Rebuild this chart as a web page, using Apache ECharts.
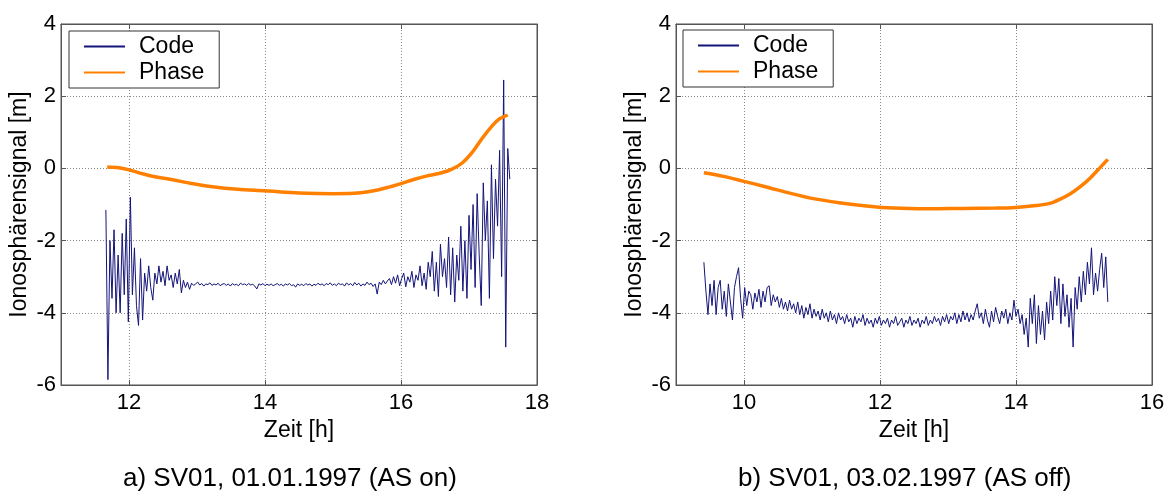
<!DOCTYPE html>
<html>
<head>
<meta charset="utf-8">
<script src="https://cdn.jsdelivr.net/npm/echarts@6/dist/echarts.min.js"></script>
<style>html,body{margin:0;padding:0;background:#fff}#c{width:1171px;height:495px}</style>
</head>
<body>
<div id="c"></div>
<script>
// ---------- DATA ----------
const xTicksA = [12, 14, 16, 18];
const xTicksB = [10, 12, 14, 16];
const yTicks = [-6, -4, -2, 0, 2, 4];
const captionA = 'a) SV01, 01.01.1997 (AS on)';
const captionB = 'b) SV01, 03.02.1997 (AS off)';

// Panel a) Code: sampled every 0.03 h starting 11.66 h
const codeA_t0 = 11.66, codeA_dt = 0.03;
const codeA = [
 -1.15,-5.85,-2.0,-3.6,-1.7,-4.0,-2.4,-4.0,-1.8,-3.5,
 -1.4,-4.25,-0.8,-3.5,-2.2,-3.8,-4.35,-2.5,-4.2,-2.9,
 -3.4,-2.7,-3.3,-3.65,-2.9,-3.2,-2.7,-3.15,-2.85,-3.25,
 -2.7,-3.1,-2.95,-3.3,-2.9,-3.2,-2.8,-3.45,-3.1,-3.3,
 -3.15,-3.35,
 -3.18,-3.24,-3.2,-3.15,-3.23,-3.19,-3.26,-3.2,-3.22,-3.17,
 -3.24,-3.2,-3.23,-3.18,-3.25,-3.21,-3.19,-3.24,-3.2,-3.26,
 -3.19,-3.23,-3.21,-3.25,-3.18,-3.22,-3.2,-3.24,-3.19,-3.23,
 -3.21,-3.26,-3.34,-3.2,-3.23,-3.19,-3.25,-3.21,-3.24,-3.2,
 -3.25,-3.22,-3.19,-3.24,-3.21,-3.26,-3.2,-3.23,-3.19,-3.25,
 -3.22,-3.29,-3.2,-3.24,-3.21,-3.25,-3.19,-3.23,-3.2,-3.26,
 -3.21,-3.24,-3.18,-3.23,-3.2,-3.25,-3.19,-3.22,-3.17,-3.24,
 -3.2,-3.25,-3.18,-3.22,-3.2,-3.26,-3.17,-3.23,-3.19,-3.25,
 -3.16,-3.23,-3.18,-3.26,-3.2,-3.24,-3.15,-3.22,-3.18,-3.27,
 -3.2,-3.48,-3.15,-3.22,-3.1,-3.2,-3.12,
 -3.05,-3.22,-3.0,-3.18,-2.95,-3.25,-3.05,-2.9,-3.28,-3.0,
 -3.15,-2.85,-3.3,-2.95,-3.1,-2.7,-3.25,-2.9,-3.35,-2.6,
 -3.0,-2.3,-3.4,-2.6,-3.55,-2.1,-3.0,-2.5,-3.3,-1.9,
 -3.5,-2.2,-3.7,-2.4,-3.1,-1.6,-3.4,-2.0,-3.6,-1.3,
 -2.8,-1.0,-3.3,-0.7,-2.4,-3.8,-0.4,-2.0,-0.9,-3.6,
 0.1,-2.5,-0.3,-1.6,0.5,-3.0,2.45,-4.95,0.55,-0.3
];
// Panel a) Phase: [time h, value m]
const phaseA_t = [11.68,11.85,12.0,12.2,12.4,12.6,12.9,13.2,13.6,14.0,14.5,15.0,15.3,15.6,15.8,16.0,16.2,16.4,16.6,16.75,16.9,17.05,17.2,17.35,17.45,17.5,17.57];
const phaseA_v = [0.04,0.02,-0.04,-0.15,-0.24,-0.3,-0.41,-0.5,-0.58,-0.62,-0.68,-0.7,-0.69,-0.62,-0.53,-0.42,-0.3,-0.2,-0.12,-0.02,0.15,0.45,0.85,1.2,1.38,1.42,1.48];

// Panel b) Code: sampled every 0.03 h starting 9.41 h
const codeB_t0 = 9.41, codeB_dt = 0.03;
const codeB = [
 -2.6,-3.4,-4.05,-3.2,-3.8,-3.1,-4.05,-3.3,-3.1,-3.9,
 -3.4,-4.1,-3.2,-3.7,-4.2,-3.3,-3.0,-2.75,-3.6,-4.15,
 -3.3,-3.8,-3.4,-3.5,-3.9,-3.45,-3.7,-3.35,-3.85,-3.4,
 -3.7,-3.3,-3.25,-3.8,-3.5,-3.7,-3.55,-3.85,-3.6,-3.9,
 -3.7,-3.95,-3.65,-3.9,-3.75,-4.0,-3.7,-4.05,-3.8,-4.15,
 -3.85,-4.05,-3.75,-4.15,-3.9,-4.1,-3.95,-4.2,-3.9,-4.15,
 -4.0,-4.25,-3.95,-4.2,-4.05,-4.3,-4.0,-4.2,-4.1,-4.3,
 -4.05,-4.25,-4.15,-4.4,-4.1,-4.3,-4.15,-4.25,-4.05,-4.35,
 -4.15,-4.3,-4.2,-4.4,-4.15,-4.3,-4.1,-4.35,-4.2,-4.3,
 -4.15,-4.4,-4.2,-4.3,-4.1,-4.35,-4.25,-4.15,-4.4,-4.2,
 -4.3,-4.1,-4.35,-4.2,-4.3,-4.15,-4.4,-4.2,-4.3,-4.1,
 -4.35,-4.2,-4.3,-4.1,-4.25,-4.15,-4.35,-4.1,-4.25,-4.05,
 -4.3,-4.1,-4.2,-4.0,-4.3,-4.05,-4.25,-3.95,-4.2,-4.0,
 -4.25,-4.05,-4.2,-3.95,-3.75,-4.15,-4.0,-4.3,-3.9,-4.2,
 -4.4,-3.95,-4.25,-3.85,-4.1,-4.3,-3.95,-4.15,-3.9,-4.3,
 -4.0,-4.2,-3.65,-4.1,-3.9,-4.3,-4.05,-4.6,-4.15,-4.95,
 -3.6,-4.3,-3.5,-4.85,-3.8,-4.6,-3.95,-4.75,-3.7,-4.3,
 -3.4,-4.2,-3.0,-3.8,-3.05,-4.3,-3.2,-4.1,-3.5,-4.4,
 -3.6,-4.95,-3.3,-3.9,-3.0,-3.7,-2.85,-3.5,-2.6,-3.2,
 -2.2,-3.5,-2.9,-3.4,-2.8,-2.35,-3.3,-2.45,-3.7
];
// Panel b) Phase
const phaseB_t = [9.41,9.7,10.0,10.3,10.7,11.0,11.4,11.8,12.2,12.7,13.2,13.7,14.0,14.3,14.5,14.65,14.8,14.95,15.1,15.25,15.35];
const phaseB_v = [-0.12,-0.22,-0.36,-0.5,-0.7,-0.83,-0.95,-1.04,-1.1,-1.12,-1.11,-1.1,-1.08,-1.03,-0.97,-0.85,-0.7,-0.5,-0.25,0.05,0.25];

// ---------- BUILD ----------
const FONT = 'Liberation Sans, Arial, sans-serif';
const codeColor = '#14147a';
const phaseColor = '#ff8000';
const axisColor = '#555';

const pairs = (t0, dt, arr) => arr.map((v, i) => [+(t0 + i * dt).toFixed(3), v]);
const zip = (t, v) => t.map((x, i) => [x, v[i]]);

const grids = [
  {left: 61, top: 24, width: 476, height: 361},
  {left: 676, top: 24, width: 476, height: 361}
];

function xAx(gi, min, max, ticks, top) {
  return {
    type: 'value', gridIndex: gi, min: min, max: max, position: top ? 'top' : 'bottom',
    name: top ? '' : 'Zeit [h]', nameLocation: 'middle', nameGap: 34,
    nameTextStyle: {fontFamily: FONT, fontSize: 23, color: '#000'},
    axisLine: {show: true, onZero: false, lineStyle: {color: axisColor, width: 1}},
    axisTick: {show: true, inside: true, length: 5, customValues: ticks, lineStyle: {color: axisColor}},
    axisLabel: {show: !top, customValues: ticks, fontFamily: FONT, fontSize: 22, color: '#000', margin: 7},
    splitLine: {show: !top, lineStyle: {color: '#8a8a8a', type: [1, 2], width: 1}}
  };
}
function yAx(gi, right) {
  return {
    type: 'value', gridIndex: gi, min: -6, max: 4, interval: 2, position: right ? 'right' : 'left',
    name: right ? '' : 'Ionosphärensignal [m]', nameLocation: 'middle', nameGap: 30,
    nameTextStyle: {fontFamily: FONT, fontSize: 23, color: '#000'},
    axisLine: {show: true, onZero: false, lineStyle: {color: axisColor, width: 1}},
    axisTick: {show: true, inside: true, length: 5, lineStyle: {color: axisColor}},
    axisLabel: {show: !right, fontFamily: FONT, fontSize: 22, color: '#000', margin: 5},
    splitLine: {show: !right, lineStyle: {color: '#8a8a8a', type: [1, 2], width: 1}}
  };
}

function legend(left, top) {
  return {
    left: left, top: top, orient: 'vertical', data: ['Code', 'Phase'],
    itemWidth: 41, itemHeight: 14, itemGap: 3,
    padding: [4, 15, 4, 14],
    borderColor: '#333', borderWidth: 1, backgroundColor: '#fff',
    selectedMode: false,
    itemStyle: {opacity: 0},
    textStyle: {fontFamily: FONT, fontSize: 23, color: '#000', padding: [0, 0, 0, 9]}
  };
}

const series = [
  {name: 'Code', type: 'line', xAxisIndex: 0, yAxisIndex: 0, data: pairs(codeA_t0, codeA_dt, codeA),
   symbol: 'none', symbolSize: 0, lineStyle: {color: codeColor, width: 1}, itemStyle: {color: codeColor}, z: 2, animation: false},
  {name: 'Phase', type: 'line', xAxisIndex: 0, yAxisIndex: 0, data: zip(phaseA_t, phaseA_v), smooth: 0.3,
   symbol: 'none', symbolSize: 0, lineStyle: {color: phaseColor, width: 3.5}, itemStyle: {color: phaseColor}, z: 3, animation: false},
  {name: 'Code', type: 'line', xAxisIndex: 1, yAxisIndex: 1, data: pairs(codeB_t0, codeB_dt, codeB),
   symbol: 'none', symbolSize: 0, lineStyle: {color: codeColor, width: 1}, itemStyle: {color: codeColor}, z: 2, animation: false},
  {name: 'Phase', type: 'line', xAxisIndex: 1, yAxisIndex: 1, data: zip(phaseB_t, phaseB_v), smooth: 0.3,
   symbol: 'none', symbolSize: 0, lineStyle: {color: phaseColor, width: 3.5}, itemStyle: {color: phaseColor}, z: 3, animation: false}
];

const chart = echarts.init(document.getElementById('c'), null, {renderer: 'canvas'});
chart.setOption({
  animation: false,
  backgroundColor: '#fff',
  grid: grids.map(g => Object.assign({show: true, borderColor: axisColor, borderWidth: 1, backgroundColor: '#fff'}, g)),
  xAxis: [xAx(0, 11, 18, xTicksA, false), xAx(1, 9, 16, xTicksB, false), xAx(0, 11, 18, xTicksA, true), xAx(1, 9, 16, xTicksB, true)],
  yAxis: [yAx(0, false), yAx(1, false), yAx(0, true), yAx(1, true)],
  legend: [legend(69, 31), legend(683, 30)],
  series: series,
  graphic: [
    {type: 'text', left: 290 - 167, top: 466, style: {text: captionA, font: '26px ' + FONT, fill: '#000'}},
    {type: 'text', left: 905 - 167, top: 466, style: {text: captionB, font: '26px ' + FONT, fill: '#000'}}
  ]
});
</script>
</body>
</html>
